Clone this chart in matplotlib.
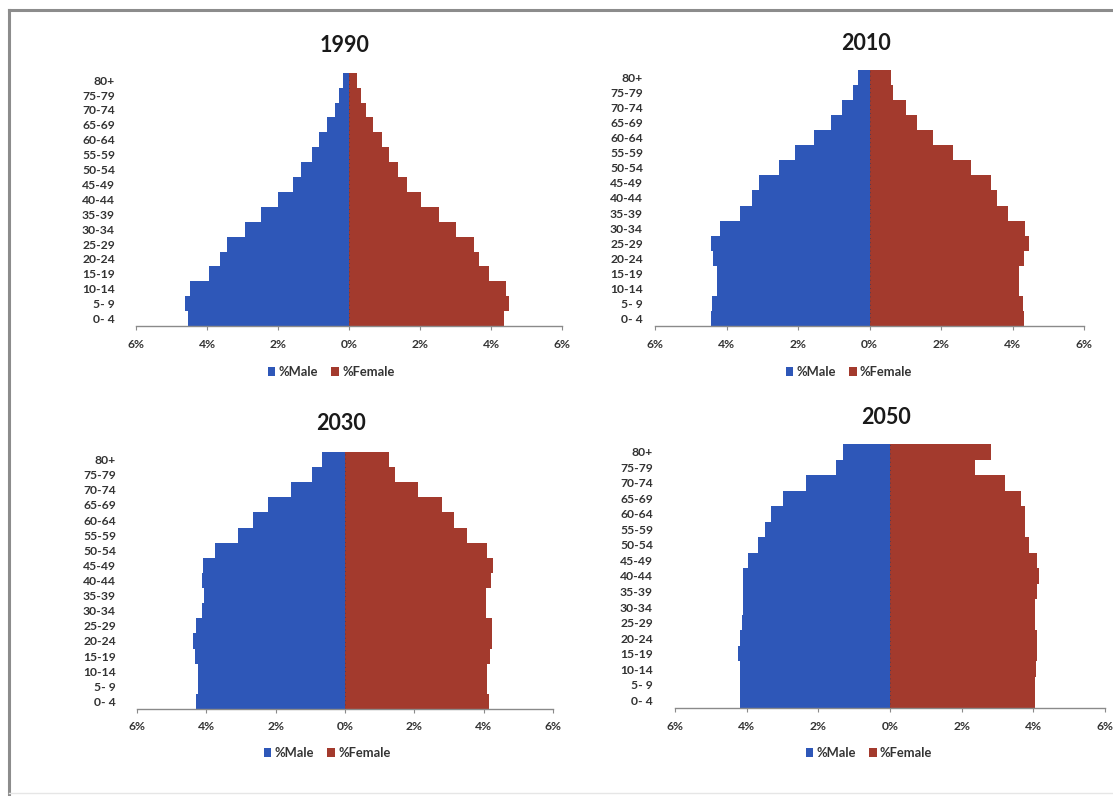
import matplotlib
matplotlib.use("Agg")
import matplotlib.pyplot as plt
from matplotlib.lines import Line2D
from matplotlib.patches import Patch

age_groups = ["0- 4", "5- 9", "10-14", "15-19", "20-24", "25-29", "30-34", "35-39",
              "40-44", "45-49", "50-54", "55-59", "60-64", "65-69", "70-74", "75-79", "80+"]

male_1990 = [4.54, 4.63, 4.49, 3.93, 3.62, 3.45, 2.92, 2.47, 2.00, 1.57, 1.36, 1.05, 0.85, 0.61, 0.40, 0.28, 0.17]
female_1990 = [4.38, 4.50, 4.42, 3.93, 3.67, 3.53, 3.01, 2.54, 2.04, 1.62, 1.39, 1.13, 0.94, 0.68, 0.47, 0.33, 0.22]

male_2010 = [4.43, 4.40, 4.26, 4.26, 4.38, 4.43, 4.19, 3.62, 3.29, 3.10, 2.53, 2.07, 1.56, 1.09, 0.77, 0.47, 0.33]
female_2010 = [4.32, 4.29, 4.18, 4.18, 4.33, 4.45, 4.36, 3.87, 3.57, 3.40, 2.84, 2.33, 1.79, 1.32, 1.03, 0.67, 0.59]

male_2030 = [4.31, 4.24, 4.24, 4.33, 4.38, 4.31, 4.13, 4.06, 4.12, 4.10, 3.75, 3.09, 2.64, 2.22, 1.55, 0.96, 0.67]
female_2030 = [4.15, 4.11, 4.11, 4.17, 4.25, 4.23, 4.08, 4.08, 4.20, 4.28, 4.11, 3.51, 3.13, 2.81, 2.11, 1.43, 1.27]

male_2050 = [4.20, 4.20, 4.20, 4.23, 4.20, 4.14, 4.09, 4.09, 4.09, 3.95, 3.69, 3.49, 3.32, 3.00, 2.35, 1.51, 1.32]
female_2050 = [4.05, 4.05, 4.07, 4.09, 4.09, 4.05, 4.05, 4.09, 4.16, 4.09, 3.89, 3.77, 3.77, 3.65, 3.21, 2.37, 2.81]

years = ["1990", "2010", "2030", "2050"]
x_ticks = [-6, -4, -2, 0, 2, 4, 6]
x_tick_labels = ["6%", "4%", "2%", "0%", "2%", "4%", "6%"]
legend_labels = ["%Male", "%Female"]

BLUE = "#2E57B8"
RED = "#A33A2D"
FONT = ["Lato", "DejaVu Sans"]

W, H = 1113, 796
fig = plt.figure(figsize=(W / 100, H / 100), dpi=100)
fig.patch.set_facecolor("white")

# panel layout in pixels: (left, right, top, bottom, ylabel pad px, title y, legend cx, legend y)
panels = [
    (136, 562, 72.7, 326, 21, 45, 331, 372),
    (655, 1084, 70, 326, 12, 43, 849, 372),
    (137, 553, 452, 709, 21, 423, 327, 753),
    (675, 1105, 444, 708, 22, 417, 869, 753),
]
data = [(male_1990, female_1990), (male_2010, female_2010),
        (male_2030, female_2030), (male_2050, female_2050)]

for (l, r, t, b, pad, ty, lcx, ly), (m, f), yr in zip(panels, data, years):
    ax = fig.add_axes([l / W, 1 - b / H, (r - l) / W, (b - t) / H])
    y = list(range(len(age_groups)))
    ax.barh(y, [-v for v in m], height=1.0, color=BLUE, linewidth=0)
    ax.barh(y, f, height=1.0, color=RED, linewidth=0)
    ax.set_xlim(-6, 6)
    ax.set_ylim(-0.5, len(age_groups) - 0.5)
    for s in ["top", "right", "left"]:
        ax.spines[s].set_visible(False)
    ax.spines["bottom"].set_color("#8a8a8a")
    ax.spines["bottom"].set_linewidth(1.0)
    ax.axvline(0, color="#3a3a5a", linewidth=0.6, linestyle=(0, (1, 4)))
    ax.set_xticks(x_ticks)
    ax.set_xticklabels(x_tick_labels, fontsize=8.7, fontweight="bold", color="#333333", family=FONT)
    ax.tick_params(axis="x", length=3, width=0.8, color="#8a8a8a", pad=6)
    ax.set_yticks(y)
    ax.set_yticklabels(age_groups, fontsize=8.7, fontweight="bold", color="#333333", family=FONT)
    ax.tick_params(axis="y", length=0, pad=pad * 0.72)
    fig.text(((l + r) / 2 - 4) / W, 1 - ty / H, yr, ha="center", va="center",
             fontsize=15.5, fontweight="bold", color="#1a1a1a", family=FONT)
    handles = [Patch(facecolor=BLUE, edgecolor="none"), Patch(facecolor=RED, edgecolor="none")]
    fig.legend(handles, legend_labels, loc="center", bbox_to_anchor=(lcx / W, 1 - ly / H),
               ncol=2, frameon=False, handlelength=0.6, handleheight=0.6, handletextpad=0.25,
               columnspacing=1.0, prop={"family": FONT, "size": 9.3, "weight": "bold"},
               labelcolor="#333333")

# outer frame (top and left edges)
fig.add_artist(Line2D([9 / W, 1.0], [1 - 10 / H, 1 - 10 / H], color="#8c8c8c", linewidth=2.2,
                      transform=fig.transFigure))
fig.add_artist(Line2D([9 / W, 9 / W], [0.0, 1 - 10 / H], color="#8c8c8c", linewidth=2.2,
                      transform=fig.transFigure))
fig.add_artist(Line2D([9 / W, 1.0], [1 - 793 / H, 1 - 793 / H], color="#e6e6e6", linewidth=1.0,
                      transform=fig.transFigure))

fig.savefig("out.png", dpi=100, facecolor="white")
